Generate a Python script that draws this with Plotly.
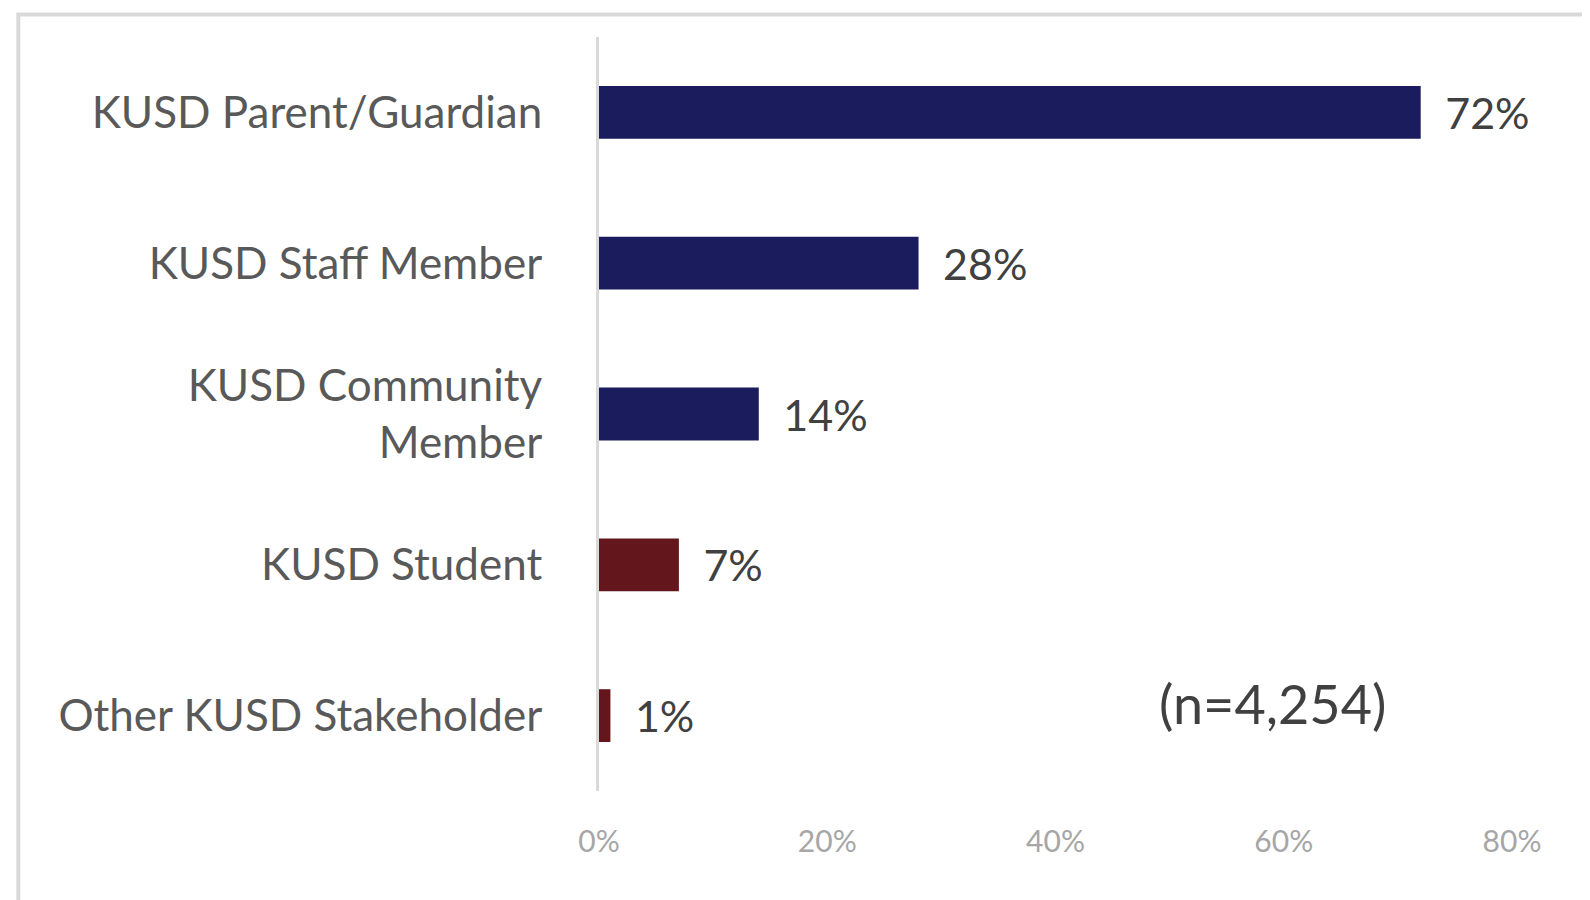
import plotly.graph_objects as go

categories = ["KUSD Parent/Guardian", "KUSD Staff Member", "KUSD Community<br>Member",
              "KUSD Student", "Other KUSD Stakeholder"]
values = [72, 28, 14, 7, 1]
bar_colors = ["#1B1C5E", "#1B1C5E", "#1B1C5E", "#63161C", "#63161C"]
tick_vals = [0, 20, 40, 60, 80]
tick_text = ["0%", "20%", "40%", "60%", "80%"]
note = "(n=4,254)"

fig = go.Figure(go.Bar(
    y=categories, x=values, orientation="h",
    marker=dict(color=bar_colors, line=dict(width=0)),
    width=0.35,
    text=[f"\u2002{v}%" for v in values], textposition="outside",
    textfont=dict(family="Lato", size=43, color="#404040"),
    cliponaxis=False,
))

fig.update_layout(
    width=1590, height=900,
    paper_bgcolor="white", plot_bgcolor="white",
    margin=dict(l=591, r=86, t=29, b=117),
    showlegend=False,
    font=dict(family="Lato", color="#595959"),
    shapes=[
        dict(type="rect", xref="paper", yref="paper", x0=-0.636, x1=1.2, y0=-0.3, y1=1.03,
             line=dict(color="#D9D9D9", width=4), fillcolor="rgba(0,0,0,0)", layer="below"),
    ],
    annotations=[
        dict(text=note, x=59, y=4, xref="x", yref="y", showarrow=False,
             xanchor="center", yanchor="middle", yshift=12,
             font=dict(family="Lato", size=54, color="#404040")),
    ],
)
fig.update_yaxes(autorange="reversed", showline=True, linecolor="#D9D9D9", linewidth=3,
                 ticks="", ticklabelstandoff=45,
                 tickfont=dict(family="Lato", size=44, color="#595959"))
fig.update_xaxes(range=[0, 80], showgrid=False, zeroline=False, showline=False,
                 tickvals=tick_vals, ticktext=tick_text, ticks="", ticklabelstandoff=30,
                 tickfont=dict(family="Lato", size=30, color="#A6A6A6"))

fig.write_html("out.html")
